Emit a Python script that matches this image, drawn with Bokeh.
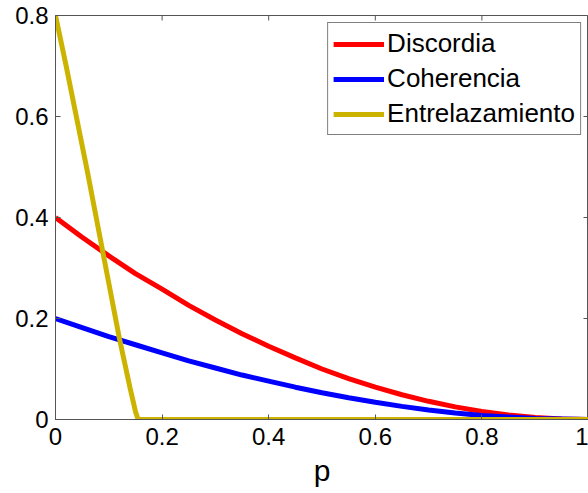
import math
from bokeh.plotting import figure
from bokeh.models import FixedTicker, Legend, LegendItem, Range1d
from bokeh.embed import file_html
from bokeh.resources import INLINE

# Data
p_vals = [0.0, 0.05, 0.10, 0.15, 0.20, 0.25, 0.30, 0.35, 0.40, 0.45, 0.50,
          0.55, 0.60, 0.65, 0.70, 0.75, 0.80, 0.85, 0.90, 0.95, 1.0]
discordia = [0.400, 0.361, 0.324, 0.289, 0.258, 0.226, 0.197, 0.170, 0.145, 0.122, 0.100,
             0.081, 0.064, 0.049, 0.036, 0.025, 0.016, 0.009, 0.004, 0.001, 0.0]
coherencia = [0.200, 0.182, 0.164, 0.148, 0.132, 0.116, 0.102, 0.088, 0.076, 0.064, 0.053,
              0.043, 0.034, 0.026, 0.019, 0.013, 0.008, 0.005, 0.002, 0.001, 0.0]
p_ent = [0.0, 0.02, 0.04, 0.06, 0.08, 0.10, 0.12, 0.14, 0.15, 0.155, 0.20, 0.40, 0.60, 0.80, 1.0]
entrelazamiento = [0.80, 0.70, 0.595, 0.49, 0.38, 0.27, 0.16, 0.062, 0.016, 0.0, 0.0, 0.0, 0.0, 0.0, 0.0]

x_ticks = [0, 0.2, 0.4, 0.6, 0.8, 1]
y_ticks = [0, 0.2, 0.4, 0.6, 0.8]
labels = ["Discordia", "Coherencia", "Entrelazamiento"]
colors = ["#FF0000", "#0000FF", "#CCB300"]

FONT = "Liberation Sans"
AX_COL = "#555555"
x_min, x_max = x_ticks[0], x_ticks[-1]
y_min, y_max = y_ticks[0], y_ticks[-1]

p = figure(width=588, height=493, output_backend="svg", toolbar_location=None,
           x_range=Range1d(x_min, x_max), y_range=Range1d(y_min, y_max),
           min_border_left=55, min_border_top=15, min_border_bottom=74, min_border_right=0,
           x_axis_label="p")
p.background_fill_color = "white"
p.border_fill_color = "white"
p.grid.visible = False
p.outline_line_color = AX_COL
p.outline_line_width = 1

for ax, ticks in ((p.xaxis[0], x_ticks), (p.yaxis[0], y_ticks)):
    ax.ticker = FixedTicker(ticks=ticks)
    ax.major_tick_in = 5
    ax.major_tick_out = 0
    ax.minor_tick_line_color = None
    ax.axis_line_color = AX_COL
    ax.major_tick_line_color = AX_COL
    ax.major_label_text_font = FONT
    ax.major_label_text_font_size = "24px"
    ax.major_label_text_color = "black"

p.xaxis[0].major_label_standoff = 8
p.yaxis[0].major_label_standoff = 7
p.xaxis[0].axis_label_text_font = FONT
p.xaxis[0].axis_label_text_font_size = "30px"
p.xaxis[0].axis_label_text_font_style = "normal"
p.xaxis[0].axis_label_text_color = "black"
p.xaxis[0].axis_label_standoff = 6

# inward ticks on the top and right edges (half of each dash is clipped by the frame)
p.scatter(x_ticks, [y_max] * len(x_ticks), marker="dash", size=10, angle=math.pi / 2,
          line_color=AX_COL, line_width=1)
p.scatter([x_max] * len(y_ticks), y_ticks, marker="dash", size=10, angle=0,
          line_color=AX_COL, line_width=1)

r1 = p.line(p_vals, discordia, line_color=colors[0], line_width=5)
r2 = p.line(p_vals, coherencia, line_color=colors[1], line_width=5)
r3 = p.line(p_ent, entrelazamiento, line_color=colors[2], line_width=5)

legend = Legend(items=[LegendItem(label=labels[0], renderers=[r1]),
                       LegendItem(label=labels[1], renderers=[r2]),
                       LegendItem(label=labels[2], renderers=[r3])],
                location="top_right")
legend.label_text_font = FONT
legend.label_text_font_size = "26px"
legend.label_text_color = "black"
legend.glyph_width = 51
legend.glyph_height = 28
legend.label_height = 28
legend.label_standoff = 3
legend.spacing = 4
legend.padding = 5
legend.margin = 7
legend.border_line_color = "black"
legend.border_line_width = 1
legend.background_fill_alpha = 1
p.add_layout(legend)

open("out.html", "w").write(file_html(p, INLINE))
